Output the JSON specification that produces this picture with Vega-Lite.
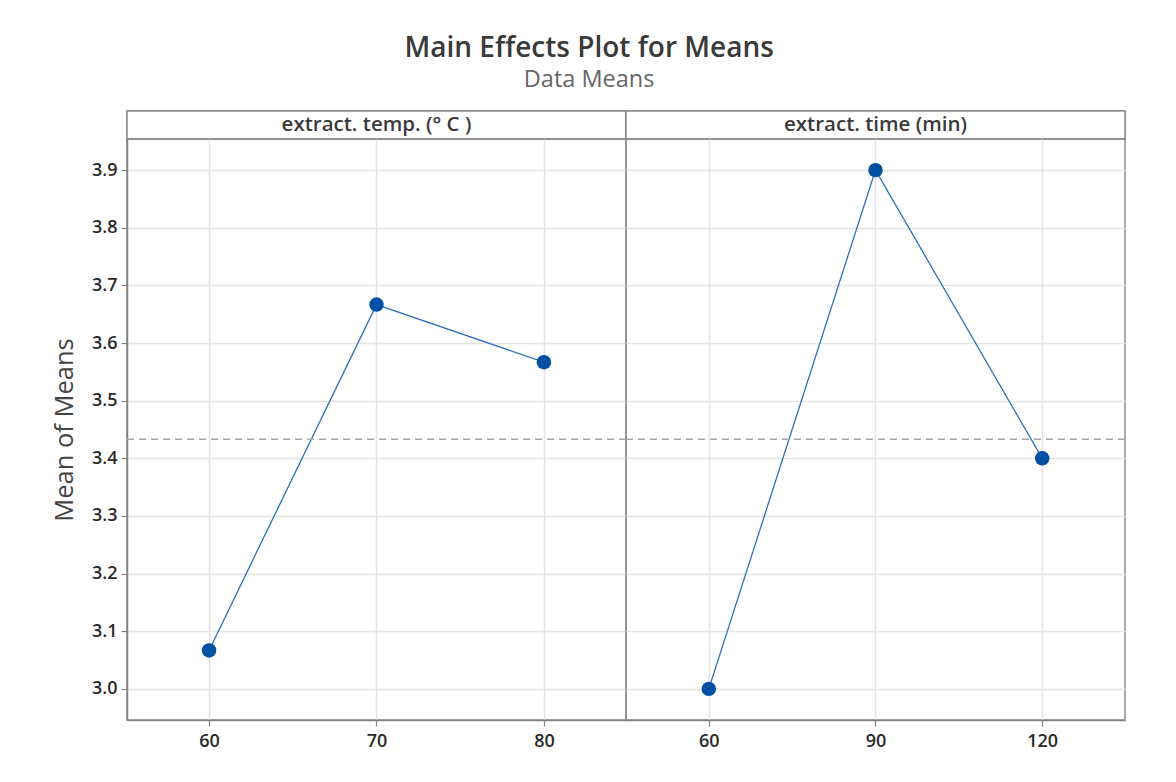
{
  "$schema": "https://vega.github.io/schema/vega-lite/v6.json",
  "background": "white",
  "padding": {"left": 51, "top": 35, "right": 50, "bottom": 20},
  "title": {
    "text": "Main Effects Plot for Means",
    "subtitle": "Data Means",
    "anchor": "middle",
    "frame": "bounds",
    "font": "Open Sans",
    "fontSize": 28,
    "fontWeight": 600,
    "color": "#3a3a3a",
    "subtitleFont": "Open Sans",
    "subtitleFontSize": 23.5,
    "subtitleColor": "#666666",
    "subtitlePadding": 5,
    "offset": 18
  },
  "datasets": {
    "means": [
      {"factor": "extract. temp. (° C )", "level": 60, "mean": 3.0667},
      {"factor": "extract. temp. (° C )", "level": 70, "mean": 3.6667},
      {"factor": "extract. temp. (° C )", "level": 80, "mean": 3.5667},
      {"factor": "extract. time (min)", "level": 60, "mean": 3.0},
      {"factor": "extract. time (min)", "level": 90, "mean": 3.9},
      {"factor": "extract. time (min)", "level": 120, "mean": 3.4}
    ],
    "overall": [{"grand": 3.4333}]
  },
  "columns": 2,
  "spacing": 0,
  "bounds": "flush",
  "concat": [
    {
      "width": 499,
      "height": 28,
      "data": {"values": [{"factor": "extract. temp. (° C )"}]},
      "encoding": {
        "x": {"field": "factor", "type": "nominal", "scale": {"paddingInner": 0, "paddingOuter": 0}, "axis": null}
      },
      "layer": [
        {"mark": {"type": "bar", "fill": "white", "stroke": "#8c8c8c", "strokeWidth": 1.5}},
        {
          "mark": {"type": "text", "font": "Open Sans", "fontSize": 20.5, "fontWeight": 600, "color": "#3a3a3a", "baseline": "middle"},
          "encoding": {"text": {"field": "factor"}}
        }
      ]
    },
    {
      "width": 499,
      "height": 28,
      "data": {"values": [{"factor": "extract. time (min)"}]},
      "encoding": {
        "x": {"field": "factor", "type": "nominal", "scale": {"paddingInner": 0, "paddingOuter": 0}, "axis": null}
      },
      "layer": [
        {"mark": {"type": "bar", "fill": "white", "stroke": "#8c8c8c", "strokeWidth": 1.5}},
        {
          "mark": {"type": "text", "font": "Open Sans", "fontSize": 20.5, "fontWeight": 600, "color": "#3a3a3a", "baseline": "middle"},
          "encoding": {"text": {"field": "factor"}}
        }
      ]
    },
    {
      "width": 499,
      "height": 581,
      "layer": [
        {
          "data": {"name": "means"},
          "transform": [{"filter": "datum.factor === 'extract. temp. (° C )'"}],
          "mark": {"type": "line", "color": "#2f6fba", "strokeWidth": 1.3},
          "encoding": {
            "x": {"field": "level", "type": "quantitative",
                  "scale": {"domain": [55.1, 84.9], "nice": false, "zero": false},
                  "axis": {"values": [60, 70, 80], "title": null}},
            "y": {"field": "mean", "type": "quantitative",
                  "scale": {"domain": [2.946, 3.954], "nice": false, "zero": false},
                  "axis": {"values": [3.0, 3.1, 3.2, 3.3, 3.4, 3.5, 3.6, 3.7, 3.8, 3.9], "format": ".1f", "title": "Mean of Means"}}
          }
        },
        {
          "data": {"name": "means"},
          "transform": [{"filter": "datum.factor === 'extract. temp. (° C )'"}],
          "mark": {"type": "point", "filled": true, "shape": "circle", "color": "#0050a4", "size": 210, "opacity": 1},
          "encoding": {
            "x": {"field": "level", "type": "quantitative"},
            "y": {"field": "mean", "type": "quantitative"}
          }
        },
        {
          "data": {"name": "overall"},
          "mark": {"type": "rule", "color": "#a8a8a8", "strokeDash": [7, 5], "strokeWidth": 1.5},
          "encoding": {"y": {"field": "grand", "type": "quantitative"}}
        }
      ]
    },
    {
      "width": 499,
      "height": 581,
      "layer": [
        {
          "data": {"name": "means"},
          "transform": [{"filter": "datum.factor === 'extract. time (min)'"}],
          "mark": {"type": "line", "color": "#2f6fba", "strokeWidth": 1.3},
          "encoding": {
            "x": {"field": "level", "type": "quantitative",
                  "scale": {"domain": [45.1, 134.9], "nice": false, "zero": false},
                  "axis": {"values": [60, 90, 120], "title": null}},
            "y": {"field": "mean", "type": "quantitative",
                  "scale": {"domain": [2.946, 3.954], "nice": false, "zero": false},
                  "axis": {"values": [3.0, 3.1, 3.2, 3.3, 3.4, 3.5, 3.6, 3.7, 3.8, 3.9], "title": null, "labels": false, "ticks": false, "domain": false}}
          }
        },
        {
          "data": {"name": "means"},
          "transform": [{"filter": "datum.factor === 'extract. time (min)'"}],
          "mark": {"type": "point", "filled": true, "shape": "circle", "color": "#0050a4", "size": 210, "opacity": 1},
          "encoding": {
            "x": {"field": "level", "type": "quantitative"},
            "y": {"field": "mean", "type": "quantitative"}
          }
        },
        {
          "data": {"name": "overall"},
          "mark": {"type": "rule", "color": "#a8a8a8", "strokeDash": [7, 5], "strokeWidth": 1.5},
          "encoding": {"y": {"field": "grand", "type": "quantitative"}}
        }
      ]
    }
  ],
  "config": {
    "view": {"stroke": "#8c8c8c", "strokeWidth": 1.5},
    "axis": {
      "labelFont": "Open Sans",
      "labelFontSize": 18,
      "labelFontWeight": 600,
      "labelColor": "#2a2a2a",
      "labelPadding": 4,
      "domainColor": "#808080",
      "domainWidth": 1.5,
      "tickColor": "#808080",
      "tickSize": 6,
      "tickWidth": 1.2,
      "gridColor": "#e4e4e4",
      "gridWidth": 1.5,
      "titleFont": "Open Sans",
      "titleFontSize": 25.5,
      "titleFontWeight": "normal",
      "titleColor": "#444444",
      "titlePadding": 14
    },
    "axisX": {"labelPadding": 6}
  }
}
